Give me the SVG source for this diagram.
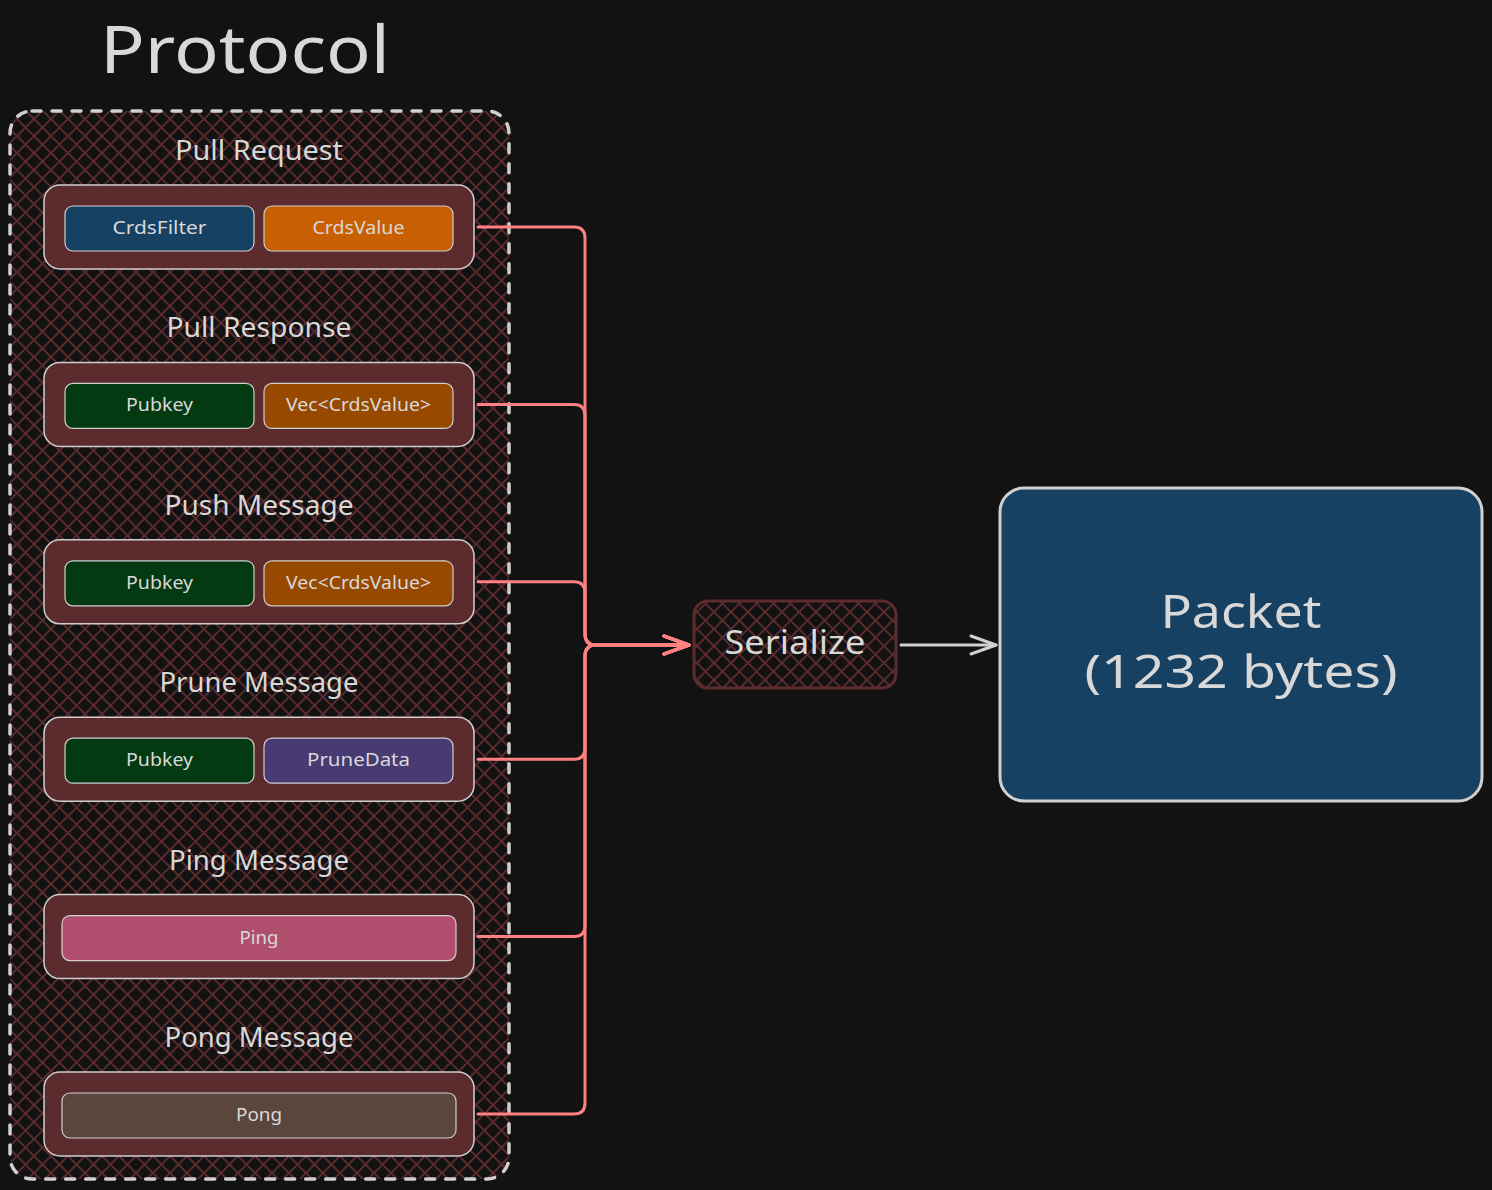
<svg xmlns="http://www.w3.org/2000/svg" width="1492" height="1190" viewBox="0 0 1492 1190">
  <defs>
    <pattern id="hatch" patternUnits="userSpaceOnUse" width="17" height="17">
      <path d="M-1,-1 L18,18 M18,-1 L-1,18" stroke="#5c2b2d" stroke-width="1.9" fill="none"/>
    </pattern>
    <marker id="arrRed" markerUnits="userSpaceOnUse" markerWidth="32" markerHeight="26" viewBox="-30 -13 32 26" refX="0" refY="0" orient="auto">
      <path d="M-25,-9 L0,0 L-25,9" fill="none" stroke="#ff8080" stroke-width="3" stroke-linecap="round" stroke-linejoin="round"/>
    </marker>
    <marker id="arrGray" markerUnits="userSpaceOnUse" markerWidth="32" markerHeight="26" viewBox="-30 -13 32 26" refX="0" refY="0" orient="auto">
      <path d="M-25,-9 L0,0 L-25,9" fill="none" stroke="#d0d0d0" stroke-width="3" stroke-linecap="round" stroke-linejoin="round"/>
    </marker>
  </defs>
  <style>
    text { font-family: "Noto Sans", "DejaVu Sans", sans-serif; fill: #d8d8d8; text-anchor: middle; }
    .title { font-size: 66px; }
    .grp { font-size: 27px; }
    .lbl { font-size: 18px; }
    .row { fill: #5c2b2d; stroke: #cfcfcf; stroke-width: 1.5; }
    .cell { stroke: #cfcfcf; stroke-width: 1.2; }
    .conn { fill: none; stroke: #ff8080; stroke-width: 3; stroke-linecap: round; stroke-linejoin: round; }
  </style>
  <rect width="1492" height="1190" fill="#121212"/>

  <g id="title">
    <text class="title" x="245" y="73" textLength="290" lengthAdjust="spacingAndGlyphs">Protocol</text>
  </g>

  <g id="protocol">
    <rect x="10" y="111" width="499" height="1068" rx="22" fill="url(#hatch)" stroke="#d0d0d0" stroke-width="3.5" stroke-dasharray="9 11" stroke-linecap="round"/>
  </g>

  <g id="pull-request">
    <text class="grp" x="259" y="160" textLength="168" lengthAdjust="spacingAndGlyphs">Pull Request</text>
    <rect class="row" x="44" y="185" width="430" height="84" rx="16"/>
    <rect class="cell" x="65" y="206" width="189" height="45" rx="8" fill="#174162"/>
    <text class="lbl" x="159.5" y="234" textLength="94" lengthAdjust="spacingAndGlyphs">CrdsFilter</text>
    <rect class="cell" x="264" y="206" width="189" height="45" rx="8" fill="#c85f02"/>
    <text class="lbl" x="358.5" y="234" textLength="92" lengthAdjust="spacingAndGlyphs">CrdsValue</text>
  </g>

  <g id="pull-response">
    <text class="grp" x="259" y="337.4" textLength="185" lengthAdjust="spacingAndGlyphs">Pull Response</text>
    <rect class="row" x="44" y="362.4" width="430" height="84" rx="16"/>
    <rect class="cell" x="65" y="383.4" width="189" height="45" rx="8" fill="#043a12"/>
    <text class="lbl" x="159.5" y="411.4" textLength="67" lengthAdjust="spacingAndGlyphs">Pubkey</text>
    <rect class="cell" x="264" y="383.4" width="189" height="45" rx="8" fill="#984900"/>
    <text class="lbl" x="358.5" y="411.4" textLength="145" lengthAdjust="spacingAndGlyphs">Vec&lt;CrdsValue&gt;</text>
  </g>

  <g id="push-message">
    <text class="grp" x="259" y="514.8" textLength="189" lengthAdjust="spacingAndGlyphs">Push Message</text>
    <rect class="row" x="44" y="539.8" width="430" height="84" rx="16"/>
    <rect class="cell" x="65" y="560.8" width="189" height="45" rx="8" fill="#043a12"/>
    <text class="lbl" x="159.5" y="588.8" textLength="67" lengthAdjust="spacingAndGlyphs">Pubkey</text>
    <rect class="cell" x="264" y="560.8" width="189" height="45" rx="8" fill="#984900"/>
    <text class="lbl" x="358.5" y="588.8" textLength="145" lengthAdjust="spacingAndGlyphs">Vec&lt;CrdsValue&gt;</text>
  </g>

  <g id="prune-message">
    <text class="grp" x="259" y="692.2" textLength="199" lengthAdjust="spacingAndGlyphs">Prune Message</text>
    <rect class="row" x="44" y="717.2" width="430" height="84" rx="16"/>
    <rect class="cell" x="65" y="738.2" width="189" height="45" rx="8" fill="#043a12"/>
    <text class="lbl" x="159.5" y="766.2" textLength="67" lengthAdjust="spacingAndGlyphs">Pubkey</text>
    <rect class="cell" x="264" y="738.2" width="189" height="45" rx="8" fill="#483a72"/>
    <text class="lbl" x="358.5" y="766.2" textLength="103" lengthAdjust="spacingAndGlyphs">PruneData</text>
  </g>

  <g id="ping-message">
    <text class="grp" x="259" y="869.6" textLength="180" lengthAdjust="spacingAndGlyphs">Ping Message</text>
    <rect class="row" x="44" y="894.6" width="430" height="84" rx="16"/>
    <rect class="cell" x="62" y="915.6" width="394" height="45" rx="8" fill="#b04e6e"/>
    <text class="lbl" x="259" y="943.6" textLength="39" lengthAdjust="spacingAndGlyphs">Ping</text>
  </g>

  <g id="pong-message">
    <text class="grp" x="259" y="1047" textLength="189" lengthAdjust="spacingAndGlyphs">Pong Message</text>
    <rect class="row" x="44" y="1072" width="430" height="84" rx="16"/>
    <rect class="cell" x="62" y="1093" width="394" height="45" rx="8" fill="#5a463d"/>
    <text class="lbl" x="259" y="1121" textLength="46" lengthAdjust="spacingAndGlyphs">Pong</text>
  </g>

  <g id="serialize">
    <rect x="694" y="601" width="202" height="87" rx="14" fill="url(#hatch)" stroke="#5c2b2d" stroke-width="3"/>
    <text x="795" y="654" font-size="32" textLength="141" lengthAdjust="spacingAndGlyphs">Serialize</text>
  </g>

  <g id="packet">
    <rect x="1000" y="488" width="482" height="313" rx="24" fill="#174163" stroke="#d0d0d0" stroke-width="3"/>
    <text x="1241" y="628" font-size="46" textLength="161" lengthAdjust="spacingAndGlyphs">Packet</text>
    <text x="1241" y="688" font-size="46" textLength="313" lengthAdjust="spacingAndGlyphs">(1232 bytes)</text>
  </g>

  <g id="connectors">
    <path class="conn" marker-end="url(#arrRed)" d="M478,227 H574 Q585,227 585,238 V634 Q585,645 596,645 H689"/>
    <path class="conn" marker-end="url(#arrRed)" d="M478,404.4 H574 Q585,404.4 585,415.4 V634 Q585,645 596,645 H689"/>
    <path class="conn" marker-end="url(#arrRed)" d="M478,581.8 H574 Q585,581.8 585,592.8 V634 Q585,645 596,645 H689"/>
    <path class="conn" marker-end="url(#arrRed)" d="M478,759.2 H574 Q585,759.2 585,748.2 V656 Q585,645 596,645 H689"/>
    <path class="conn" marker-end="url(#arrRed)" d="M478,936.6 H574 Q585,936.6 585,925.6 V656 Q585,645 596,645 H689"/>
    <path class="conn" marker-end="url(#arrRed)" d="M478,1114 H574 Q585,1114 585,1103 V656 Q585,645 596,645 H689"/>
    <path fill="none" stroke="#d0d0d0" stroke-width="3" stroke-linecap="round" marker-end="url(#arrGray)" d="M901,645 H996"/>
  </g>
</svg>
